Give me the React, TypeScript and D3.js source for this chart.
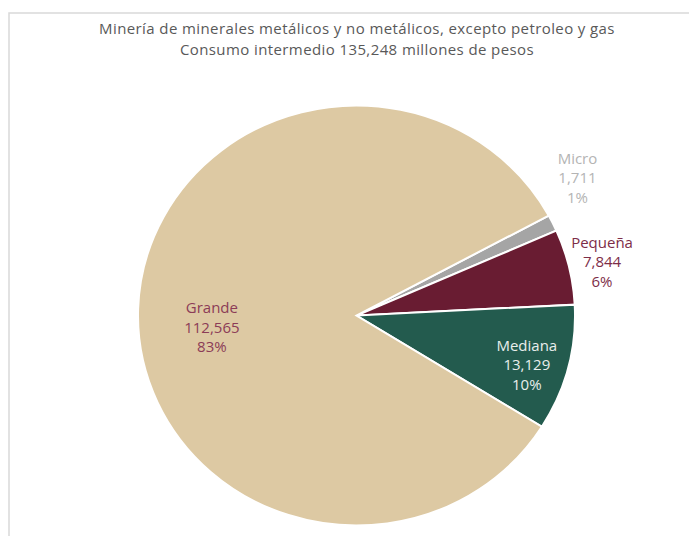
import React from "react";
import * as d3 from "d3";

const categories = ["Micro", "Pequeña", "Mediana", "Grande"];
const values = [1711, 7844, 13129, 112565];
const valueLabels = ["1,711", "7,844", "13,129", "112,565"];
const percentLabels = ["1%", "6%", "10%", "83%"];
const titleLines = [
  "Minería de minerales metálicos y no metálicos, excepto petroleo y gas",
  "Consumo intermedio 135,248 millones de pesos",
];

const W = 689;
const H = 536;
const cx = 356.5;
const cy = 315.5;
const ry = 210;
const sx = 218.5 / 210;
const startDeg = 61.6;

const sliceColors: Record<string, string> = {
  Micro: "#a5a5a5",
  "Pequeña": "#691c32",
  Mediana: "#235b4e",
  Grande: "#ddc9a3",
};
const labelColors: Record<string, string> = {
  Micro: "#b4b4b4",
  "Pequeña": "#7d2d48",
  Mediana: "#e9eeec",
  Grande: "#8c3c57",
};
const labelRadius: Record<string, number> = {
  Micro: 253,
  "Pequeña": 242,
  Mediana: 171,
  Grande: 139.5,
};
const labelAngleShift: Record<string, number> = {
  Micro: -6.8,
  "Pequeña": 0.6,
  Mediana: 2.3,
  Grande: -6.7,
};

export default function App() {
  const data = categories.map((c, i) => ({
    cat: c,
    value: values[i],
    vl: valueLabels[i],
    pl: percentLabels[i],
  }));
  const start = (startDeg * Math.PI) / 180;
  const pie = d3
    .pie<any>()
    .sort(null)
    .value((d) => d.value)
    .startAngle(start)
    .endAngle(start + 2 * Math.PI);
  const arcs = pie(data);
  const arc = d3.arc<any>().innerRadius(0).outerRadius(ry);
  const font = "'Open Sans', sans-serif";

  return (
    <svg
      width={W}
      height={H}
      style={{ position: "fixed", left: 0, top: 0, background: "#fff" }}
    >
      <rect x={9} y={13} width={W + 20} height={H + 20} fill="#fff" stroke="#d9d9d9" strokeWidth={1.5} />
      {titleLines.map((t, i) => (
        <text
          key={i}
          x={357}
          y={34 + i * 21}
          textAnchor="middle"
          fontFamily={font}
          fontSize={15}
          letterSpacing={0.4}
          fill="#595959"
        >
          {t}
        </text>
      ))}
      <g transform={`translate(${cx},${cy}) scale(${sx},1)`}>
        {arcs.map((a, i) => (
          <path
            key={i}
            d={arc(a) as string}
            fill={sliceColors[a.data.cat]}
            stroke="#fff"
            strokeWidth={2}
            vectorEffect="non-scaling-stroke"
          />
        ))}
      </g>
      {arcs.map((a, i) => {
        const r = labelRadius[a.data.cat];
        const shift = (labelAngleShift[a.data.cat] * Math.PI) / 180;
        const shifted = { ...a, startAngle: a.startAngle + shift, endAngle: a.endAngle + shift };
        const [px, py] = d3.arc<any>().innerRadius(r).outerRadius(r).centroid(shifted);
        const x = cx + px * sx;
        const y = cy + py;
        const lines = [a.data.cat, a.data.vl, a.data.pl];
        return (
          <text
            key={i}
            textAnchor="middle"
            fontFamily={font}
            fontSize={15}
            fill={labelColors[a.data.cat]}
          >
            {lines.map((l, j) => (
              <tspan key={j} x={x} y={y + (j - 1) * 19.5 + 5.5}>
                {l}
              </tspan>
            ))}
          </text>
        );
      })}
    </svg>
  );
}
